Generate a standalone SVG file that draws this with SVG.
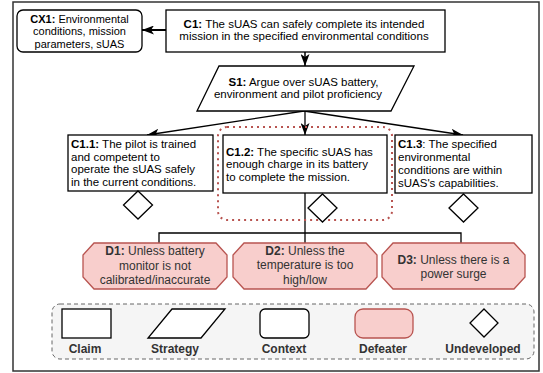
<svg xmlns="http://www.w3.org/2000/svg" width="543" height="373" viewBox="0 0 543 373">
<defs>
<style>
text{font-family:"Liberation Sans",Arial,sans-serif;font-size:12px;fill:#000}
.s{font-size:11.5px}
.x{font-size:11px}
.b{font-weight:bold}
.c{text-anchor:middle}
.box{fill:#fff;stroke:#000;stroke-width:1.3}
.def{fill:#f8cecc;stroke:#b85450;stroke-width:1.3}
.dia{fill:#fff;stroke:#000;stroke-width:1.3}
.ln{fill:none;stroke:#000;stroke-width:1.3}
.dt{fill:#333}
</style>
<marker id="ah" markerUnits="userSpaceOnUse" markerWidth="12" markerHeight="9" refX="12" refY="4.5" orient="auto">
<path d="M0,0 L12,4.5 L0,9 L3,4.5 z" fill="#000"/>
</marker>
</defs>
<rect x="13" y="2" width="526" height="369" fill="#fff" stroke="#333" stroke-width="1.5"/>

<g id="connectors">
<line x1="166" y1="30" x2="142" y2="30" stroke="#000" stroke-width="2" marker-end="url(#ah)"/>
<line x1="305" y1="52" x2="305" y2="66" stroke="#000" stroke-width="1.5" marker-end="url(#ah)"/>
<line x1="304" y1="111" x2="147" y2="135" stroke="#000" stroke-width="1.3" marker-end="url(#ah)"/>
<line x1="305" y1="111" x2="305" y2="135" stroke="#000" stroke-width="1.3" marker-end="url(#ah)"/>
<line x1="304" y1="111" x2="463" y2="135" stroke="#000" stroke-width="1.3" marker-end="url(#ah)"/>
<path class="ln" d="M305,193 V243 M159,243 V233 H461 V243"/>
</g>

<g id="CX1">
<rect x="17" y="10" width="125" height="42" rx="6" class="box"/>
<text class="c x" x="79.5" y="23"><tspan class="b">CX1:</tspan> Environmental</text>
<text class="c x" x="79.5" y="35.3">conditions, mission</text>
<text class="c x" x="79.5" y="47.6">parameters, sUAS</text>
</g>

<g id="C1">
<rect x="166" y="10" width="279" height="42" class="box"/>
<text class="c s" x="304" y="27.5"><tspan class="b">C1:</tspan> The sUAS can safely complete its intended</text>
<text class="c s" x="304" y="40.4">mission in the specified environmental conditions</text>
</g>

<g id="S1">
<polygon points="219,66 414,66 391,111 197,111" class="box"/>
<text class="c s" x="303.5" y="85.5"><tspan class="b">S1:</tspan> Argue over sUAS battery,</text>
<text class="c s" x="298" y="98.4">environment and pilot proficiency</text>
</g>

<g id="C1.1">
<rect x="68" y="135" width="145" height="56" class="box"/>
<text class="s" x="71" y="147.6"><tspan class="b">C1.1:</tspan> The pilot is trained</text>
<text class="s" x="71" y="160.5">and competent to</text>
<text class="s" x="71" y="173.4">operate the sUAS safely</text>
<text class="s" x="71" y="186.3">in the current conditions.</text>
<polygon points="138,191 152.5,205 138,219 123.5,205" class="dia"/>
</g>

<g id="C1.2">
<rect x="218" y="127" width="174" height="93" rx="9" fill="none" stroke="#b85450" stroke-width="2" stroke-dasharray="2 4"/>
<rect x="223" y="135" width="164" height="58" class="box"/>
<text class="s" x="226" y="155.5"><tspan class="b">C1.2:</tspan> The specific sUAS has</text>
<text class="s" x="226" y="168.4">enough charge in its battery</text>
<text class="s" x="226" y="181.3">to complete the mission.</text>
<polygon points="322.5,194 337,208 322.5,222 308,208" class="dia"/>
</g>

<g id="C1.3">
<rect x="395" y="135" width="137" height="58" class="box"/>
<text class="s" x="398" y="148"><tspan class="b">C1.3</tspan>: The specified</text>
<text class="s" x="398" y="160.9">environmental</text>
<text class="s" x="398" y="173.8">conditions are within</text>
<text class="s" x="398" y="186.7">sUAS's capabilities.</text>
<polygon points="463.5,194 478,208 463.5,222 449,208" class="dia"/>
</g>

<g id="D1">
<polygon points="94,243 216,243 227,255 227,277 216,289 94,289 83,277 83,255" class="def"/>
<text class="c dt" x="155" y="254.5"><tspan class="b">D1:</tspan> Unless battery</text>
<text class="c dt" x="155" y="269.5">monitor is not</text>
<text class="c dt" x="155" y="284">calibrated/inaccurate</text>
</g>

<g id="D2">
<polygon points="244,243 366,243 377,255 377,277 366,289 244,289 233,277 233,255" class="def"/>
<text class="c dt" x="305" y="254.5"><tspan class="b">D2:</tspan> Unless the</text>
<text class="c dt" x="305" y="269">temperature is too</text>
<text class="c dt" x="305" y="283.5">high/low</text>
</g>

<g id="D3">
<polygon points="393,243 514,243 525,255 525,277 514,289 393,289 382,277 382,255" class="def"/>
<text class="c dt" x="453.5" y="263.5"><tspan class="b">D3:</tspan> Unless there is a</text>
<text class="c dt" x="453.5" y="278">power surge</text>
</g>

<g id="legend">
<rect x="52" y="304" width="482" height="55" rx="8" fill="#f5f5f5" stroke="#666" stroke-width="1" stroke-dasharray="4 3"/>
<rect x="62" y="309" width="49" height="29" class="box"/>
<polygon points="172,309 225,309 201,338 148,338" class="box"/>
<rect x="260" y="309" width="49" height="29" rx="5" class="box"/>
<rect x="355" y="309" width="58" height="29" rx="8" class="def"/>
<polygon points="484,309 498,323 484,337 470,323" class="dia"/>
<text class="c b dt" x="85" y="353">Claim</text>
<text class="c b dt" x="175" y="353">Strategy</text>
<text class="c b dt" x="284" y="353">Context</text>
<text class="c b dt" x="383" y="353">Defeater</text>
<text class="c b dt" x="483" y="353">Undeveloped</text>
</g>
</svg>
